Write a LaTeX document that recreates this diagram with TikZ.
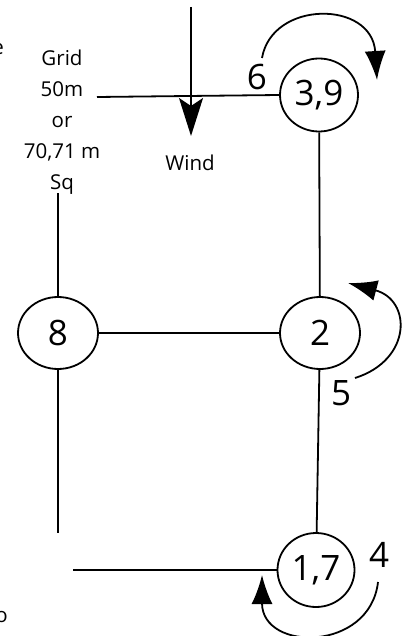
\documentclass[tikz,border=0pt]{standalone}
\usepackage{fontspec}
\setmainfont{Open Sans}
\usetikzlibrary{shapes.geometric,arrows.meta}
\begin{document}
\begin{tikzpicture}[x=1pt,y=-1pt,
  ln/.style={line width=1.8pt},
  nd/.style={draw,ellipse,line width=1.8pt,minimum width=78pt,minimum height=73pt,inner sep=0pt,font=\fontsize{35}{35}\selectfont},
  lbl/.style={font=\fontsize{20.5}{31}\selectfont,align=center,inner sep=0pt},
  num/.style={font=\fontsize{35}{35}\selectfont,inner sep=0pt},
  rot/.style={line width=1.8pt,-{Latex[length=29pt,width=21pt]}},
  wind/.style={line width=1.8pt,-{Stealth[length=38pt,width=24pt,inset=8pt]}},
]
\useasboundingbox (0,0) rectangle (404,636);
\begin{scope}
\clip (0,0) rectangle (404,636);
\node[lbl,anchor=east] (ea) at (4,49) {e};
\node[lbl,anchor=east] (eb) at (8,617) {o};
\end{scope}
% circles
\node[nd] (n39) at (319,95) {3,9};
\node[nd,minimum width=80pt,minimum height=72pt] (n2) at (320,333) {2};
\node[nd,minimum width=80pt,minimum height=72pt] (n8) at (58,333) {8};
\node[nd,minimum width=77pt,minimum height=74pt] (n17) at (316,570) {1,7};
% texts
\node[lbl] (grid) at (62,122) {Grid\\50m\\or\\70,71 m\\Sq};
\node[lbl] (windt) at (190,163) {Wind};
\node[num] (l6) at (257,77) {6};
\node[num] (l5) at (341,393) {5};
\node[num] (l4) at (379,555) {4};
% free ends
\coordinate (wtop) at (191,7);
\coordinate (wtip) at (191,136);
\coordinate (htop) at (97,97);
\coordinate (v8a) at (58,193);
\coordinate (v8b) at (58,533);
\coordinate (hbot) at (73,570);
% connectors
\draw[ln] (htop) -- (n39.west);
\draw[ln] (n39) -- (n2);
\draw[ln] (n2) -- (n17);
\draw[ln] (n8) -- (n2);
\draw[ln] (n8) -- (v8a);
\draw[ln] (n8) -- (v8b);
\draw[ln] (n17.west) -- (hbot);
\draw[wind] (wtop) -- (wtip);
% rotation arrows
\coordinate (a6s) at (262,58);
\coordinate (a6e) at (377,80);
\draw[rot] (a6s) .. controls (272,0) and (372,0) .. (a6e);
\coordinate (a5s) at (355,378);
\coordinate (a5e) at (348,283);
\draw[rot] (a5s) .. controls (412,360) and (412,300) .. (a5e);
\coordinate (a4s) at (378,582);
\coordinate (a4e) at (262,575);
\draw[rot] (a4s) .. controls (370,652) and (262,652) .. (a4e);
\end{tikzpicture}
\end{document}
